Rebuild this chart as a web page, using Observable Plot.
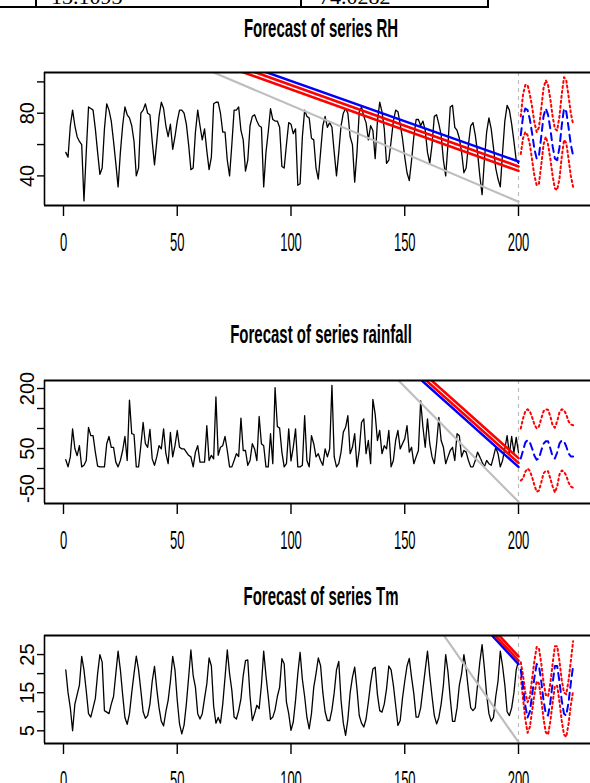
<!DOCTYPE html>
<html><head><meta charset="utf-8">
<script src="https://cdn.jsdelivr.net/npm/d3@7"></script>
<script src="https://cdn.jsdelivr.net/npm/@observablehq/plot@0.6"></script>
<style>
body{margin:0;background:#fff;}
#page{position:relative;width:590px;height:783px;overflow:hidden;background:#fff;font-family:"Liberation Sans",Arial,sans-serif;}
.title{position:absolute;left:0;width:642px;text-align:center;font-weight:bold;font-size:25px;line-height:25px;transform:scaleX(0.6);transform-origin:321px 0;white-space:nowrap;color:#000;}
.panel{position:absolute;left:0;}
.hl{position:absolute;background:#000;}
.cell{position:absolute;font-family:"Liberation Serif","Times New Roman",serif;font-size:22px;line-height:22px;white-space:nowrap;color:#000;}
</style></head><body><div id="page"></div>
<script>
// ---------- data ----------
const xTicks = [0, 50, 100, 150, 200];
const titles = ["Forecast of series RH", "Forecast of series rainfall", "Forecast of series Tm"];
const tableCells = ["13.1093", "74.0282"];

const rh = [55,52,72,82,72,65,62,60,24,55, 84,83,82,70,55,41,45,70,86,82, 75,62,48,33,55,72,84,79,77,72,
 62,40,45,80,82,86,80,79,62,47, 62,78,87,83,72,65,73,57,65,75, 82,82,80,73,60,44,45,68,82,72,
 63,70,56,44,52,86,87,87,80,68, 68,50,40,60,82,82,84,69,63,43, 50,72,78,79,75,72,71,33,55,68,
 83,76,75,75,71,46,45,60,74,73, 67,70,34,35,65,82,78,77,64,63, 45,38,55,72,78,71,74,71,55,40,
 55,72,80,83,80,65,60,36,55,81, 84,78,74,63,72,69,51,75,87,81, 70,48,50,62,75,82,81,73,64,52,
 42,37,50,65,76,76,72,75,69,55, 48,60,78,79,73,66,50,40,60,84, 85,71,69,64,55,42,45,60,72,74,
 66,55,40,28,50,68,77,70,58,45, 38,33,55,75,85,82,73,62,50,48];
const rhMean  = [66,78,83,82,76,67,57,51,53,65,78,83,79,70,59,51,50,58,72,83,81,71,60,53];
const rhUpper = [78,92,98,98,92,84,74,68,71,83,96,101,98,89,78,70,69,78,92,103,101,91,80,73];
const rhLower = [54,64,68,66,60,50,40,34,35,47,60,65,60,51,40,32,31,38,52,63,61,51,40,33];
const rhGray = [[60,109.7],[200,23.5]];
const rhBlue = [[70,116],[200,49.2]];
const rhRedA = [[70,113.6],[200,46]];
const rhRedB = [[70,110.8],[200,43.2]];

const rain = [22,4,29,99,50,32,57,4,8,20, 103,82,82,41,6,4,4,4,62,80, 53,53,16,4,20,45,80,20,171,87,
 85,4,4,57,115,62,53,98,24,8, 29,57,49,99,37,12,90,29,57,95, 53,49,49,41,33,29,4,41,57,16,
 16,16,107,20,33,24,179,33,53,57, 80,45,4,4,20,37,30,126,45,45, 8,20,62,49,20,130,62,57,4,4,
 87,12,202,105,101,41,4,12,99,19, 53,99,4,4,8,132,20,4,82,62, 29,37,20,8,49,29,49,208,29,4,
 12,41,91,103,132,37,53,87,4,45, 115,124,37,70,12,173,136,70,95,37, 57,49,95,4,20,70,95,49,62,74,
 107,41,53,12,29,45,169,103,53,124, 62,29,12,62,128,70,53,12,29,45, 53,20,87,82,29,45,41,20,4,4,
 20,41,29,16,4,20,12,8,29,53, 37,4,20,50,82,35,80,40,78,40];
const rainMean  = [25,45,65,71,65,50,32,22,25,45,62,68,68,50,30,25,40,62,70,68,55,38,30,30];
const rainUpper = [100,125,143,148,143,128,110,100,105,125,143,148,147,130,108,102,118,140,148,146,135,118,110,108];
const rainLower = [-30,-25,-8,0,-6,-22,-42,-58,-55,-35,-12,-6,-7,-25,-45,-60,-45,-15,-5,-8,-18,-35,-45,-48];
const rainGray = [[145,233],[200,-83.3]];
const rainBlue = [[150,258],[200,4]];
const rainRedA = [[150,280],[200,26]];
const rainRedB = [[150,268],[200,14]];

const tm = [21,15,11,5,12,14.5,17,24.5,21,15.5, 9.5,8.6,11,13.5,20,25,23,10.3,9.9,9.5, 12,14,20,25.9,21,14.5,8.5,6.7,9.5,15,
 20,24.6,21,15.6,10,8.3,9,12,18,21.9, 16,11,7.5,6.3,10,13,18,24.5,21,13, 6.8,4.2,6.5,12,19,26.2,19.5,16.4,9.5,8.1,
 9.5,13.5,17.3,24.1,22,11.5,7,8.5,7,12, 19,26.2,20,15.6,8.6,8.1,10.3,13.4,19.5,23.4, 23.6,14,7.7,9.5,11.7,10.8,17,25.9,19.5,14,
 8,8.6,10.5,14,16.4,23.9,22.6,12.5,9.5,5.1, 7.3,13,20,25.6,18.5,14,8.5,5.5,9.5,16.4, 20,24.1,22.1,15,10,7.7,7.7,10.5,15,21,
 23.2,13,7,3.8,8,15,19,21.7,16,9, 7,6,8.1,12.5,17.5,21.2,21.7,14.5,10.3,9.9, 12,16,22,21,17,11.7,6.4,7.7,13.5,18,
 22,24,19,14.7,8.6,8.6,11,16,21,25.9, 19.5,14,9,6.8,8.5,12,17,25,20.5,13.5, 7.5,7.5,11,17,20,25,21.2,15.6,11,10.3,
 11,17,23,27.6,21.5,14.5,9.5,7.5,8.5,14, 18,25.9,22,17,10,9,11,15,21,23.4];
const tmMean  = [21,16.5,11.5,8.5,10,14.5,19,22.5,22,18,13,9.5,9,12.5,17.5,22,22,18,13,9.5,9,12.5,17.5,22];
const tmUpper = [23,19.5,15,12.5,14,18.7,23.4,27,26.6,22.7,17.8,14.4,14,17.5,22.6,27.2,27.2,23.3,18.4,15,14.6,18.2,23.3,28.5];
const tmLower = [19,13.5,8,4.5,6,10.3,14.6,18,17.4,13.3,8.2,4.6,4,7.5,12.4,16.8,16.8,12.7,7.6,4,3.4,6.8,11.7,15.5];
const tmGray = [[160,36.2],[200,2.0]];
const tmBlue = [[185,32.2],[200,22.5]];
const tmRedA = [[185,34.2],[200,24.5]];
const tmRedB = [[185,33.1],[200,23.4]];

// ---------- layout ----------
const page = document.getElementById("page");

// top table fragment
function addDiv(cls, css, text) {
  const d = document.createElement("div");
  d.className = cls;
  Object.assign(d.style, css);
  if (text) d.textContent = text;
  page.appendChild(d);
  return d;
}
addDiv("cell", {left: "51px", top: "-14.5px"}, tableCells[0]);
addDiv("cell", {left: "319px", top: "-14.5px"}, tableCells[1]);
addDiv("hl", {left: "0px", top: "6px", width: "489px", height: "2px"});
addDiv("hl", {left: "35px", top: "0px", width: "2px", height: "8px"});
addDiv("hl", {left: "300px", top: "0px", width: "2px", height: "8px"});
addDiv("hl", {left: "487px", top: "0px", width: "2px", height: "8px"});

const xDomain = [-8.35, 231.65];

const panels = [
  {title: titles[0], titleTop: 16, top: 45, mt: 27, mb: 55, boxBottom: 205,
   yDomain: [21.1, 106], yTicks: [40, 60, 80, 100], yLabels: [40, 80],
   series: rh, mean: rhMean, upper: rhUpper, lower: rhLower,
   gray: rhGray, blue: rhBlue, redA: rhRedA, redB: rhRedB, blueFirst: false},
  {title: titles[1], titleTop: 322, top: 355, mt: 25, mb: 55, boxBottom: 503,
   yDomain: [-87.5, 220], yTicks: [-50, 0, 50, 100, 150, 200], yLabels: [-50, 50, 200],
   series: rain, mean: rainMean, upper: rainUpper, lower: rainLower,
   gray: rainGray, blue: rainBlue, redA: rainRedA, redB: rainRedB, blueFirst: true},
  {title: titles[2], titleTop: 584, top: 610, mt: 25, mb: 40, boxBottom: 743,
   yDomain: [1.67, 30], yTicks: [5, 10, 15, 20, 25], yLabels: [5, 15, 25],
   series: tm, mean: tmMean, upper: tmUpper, lower: tmLower,
   gray: tmGray, blue: tmBlue, redA: tmRedA, redB: tmRedB, blueFirst: true}
];

for (const p of panels) {
  addDiv("title", {top: p.titleTop + "px"}, p.title);
  const height = p.boxBottom - p.top + p.mb;
  const obs = p.series.map((v, i) => ({t: i + 1, v}));
  const fc = (arr) => arr.map((v, i) => ({t: 201 + i, v}));
  const seg = (arr, stroke, w) => Plot.line(arr, {x: d => d[0], y: d => d[1], stroke, strokeWidth: w, clip: true});
  const blueMark = seg(p.blue, "#0000ff", 2.5);
  const redMarks = [seg(p.redA, "#ff0000", 2.6), seg(p.redB, "#ff0000", 2.6)];
  const trend = p.blueFirst ? [blueMark, ...redMarks] : [...redMarks, blueMark];

  const svg = Plot.plot({
    width: 590, height,
    marginLeft: 44, marginRight: 0, marginTop: p.mt, marginBottom: p.mb,
    x: {domain: xDomain, label: null},
    y: {domain: p.yDomain, label: null},
    style: {fontFamily: "'Liberation Sans', Arial, sans-serif", background: "transparent", overflow: "visible", color: "#000"},
    marks: [
      Plot.ruleX([200], {stroke: "#bdbdbd", strokeDasharray: "4,4", strokeWidth: 1.2}),
      Plot.line(obs, {x: "t", y: "v", stroke: "#000", strokeWidth: 1.3, clip: true}),
      seg(p.gray, "#bebebe", 2.2),
      ...trend,
      Plot.line(fc(p.upper), {x: "t", y: "v", stroke: "#ff0000", strokeWidth: 2, strokeDasharray: "2,3", clip: true}),
      Plot.line(fc(p.lower), {x: "t", y: "v", stroke: "#ff0000", strokeWidth: 2, strokeDasharray: "2,3", clip: true}),
      Plot.line(fc(p.mean), {x: "t", y: "v", stroke: "#0000ff", strokeWidth: 2, strokeDasharray: "7,5", clip: true}),
      Plot.ruleY([p.yDomain[0], p.yDomain[1]], {stroke: "#000", strokeWidth: 2.2}),
      Plot.ruleX([xDomain[0]], {stroke: "#000", strokeWidth: 1.6}),
      Plot.axisX({ticks: xTicks, tickSize: 11, tickPadding: 16, fontSize: 26, tickFormat: d => String(d), label: null, strokeWidth: 1.4}),
      Plot.axisY({ticks: p.yTicks, tickSize: 7, tickFormat: () => "", label: null, strokeWidth: 1.4}),
      Plot.text(p.yLabels, {y: d => d, text: d => String(d), frameAnchor: "left", dx: -17, rotate: -90,
        fontSize: 20, textAnchor: "middle", lineAnchor: "middle", fill: "#000", ariaLabel: "ylab"})
    ]
  });
  svg.classList.add("panel");
  svg.style.position = "absolute";
  svg.style.left = "0px";
  svg.style.top = p.top + "px";
  page.appendChild(svg);

  svg.querySelectorAll('[aria-label="x-axis tick label"] text').forEach(t => {
    const tr = t.getAttribute("transform");
    if (tr) t.setAttribute("transform", tr + " scale(0.5,1)");
    else {
      const x = +t.getAttribute("x") || 0;
      t.setAttribute("transform", `translate(${x},0) scale(0.5,1) translate(${-x},0)`);
    }
  });
  svg.querySelectorAll('[aria-label="ylab"] text').forEach(t => {
    const tr = t.getAttribute("transform") || "";
    t.setAttribute("transform", tr + " scale(1,1.15)");
  });
}
</script>
</body></html>
